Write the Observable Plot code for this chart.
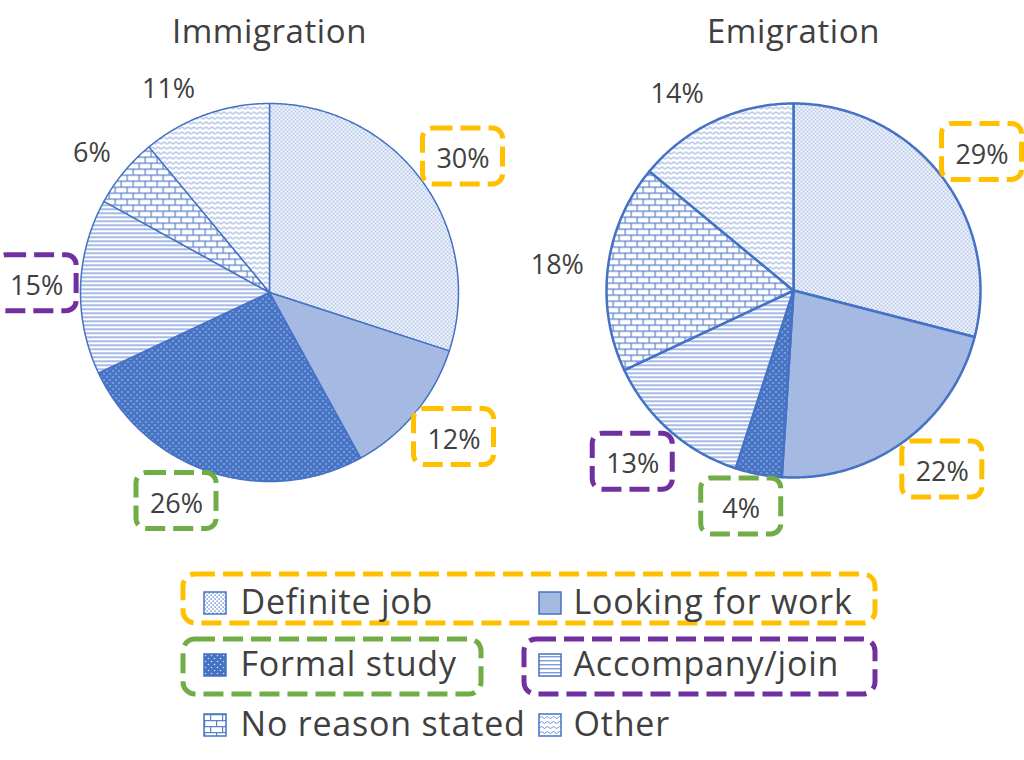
<!DOCTYPE html>
<html><head><meta charset="utf-8">
<script src="https://cdn.jsdelivr.net/npm/d3@7"></script>
<script src="https://cdn.jsdelivr.net/npm/@observablehq/plot@0.6"></script>
<style>body{margin:0;background:#fff}</style>
</head><body><div id="chart"></div>
<script>
// ---- data ----
const categories = ["Definite job", "Looking for work", "Formal study", "Accompany/join", "No reason stated", "Other"];
const immigration = [30, 12, 26, 15, 6, 11];
const emigration = [29, 22, 4, 13, 18, 14];
const pieTitles = ["Immigration", "Emigration"];

// ---- layout & styles ----
const W = 1024, H = 760;
const blue = "#4472C4";
const textColor = "#404040";
const pies = [
  {title: pieTitles[0], values: immigration, cx: 269, cy: 292, r: 189, sw: 1.5,
   nudge: [[5, 1], [5, -4], [-21, -13], [0, -2], [2, 6], [-22, 13]]},
  {title: pieTitles[1], values: emigration, cx: 793, cy: 290, r: 187, sw: 2.5,
   nudge: [[6, 3], [13, -8], [-9, -11], [-8, -2], [-7, 1], [-18, 10]]}
];
const patternIds = ["pDef", "pLook", "pStudy", "pAcc", "pNone", "pOther"];
const boxColor = ["#FFC000", "#FFC000", "#70AD47", "#7030A0", null, null];
const legendCols = [{sx: 215, tx: 240}, {sx: 550, tx: 573}];
const legendRows = [603, 665, 725];
const legendBoxes = [
  {x1: 183, x2: 875, y1: 574, y2: 623, c: "#FFC000"},
  {x1: 183, x2: 481, y1: 639, y2: 694, c: "#70AD47"},
  {x1: 524, x2: 875, y1: 639, y2: 694, c: "#7030A0"}
];

const pieGen = d3.pie().sort(null).value(d => d.value);
const slicePts = [], labels = [];
pies.forEach((p, pi) => {
  const arcs = pieGen(categories.map((c, i) => ({cat: c, i, value: p.values[i]})));
  arcs.forEach(a => {
    const key = pi + "-" + a.data.i;
    const fill = `url(#${patternIds[a.data.i]})`;
    const n = Math.max(2, Math.ceil((a.endAngle - a.startAngle) / 0.01));
    slicePts.push({pie: pi, key, fill, x: p.cx, y: p.cy});
    for (let k = 0; k <= n; k++) {
      const t = a.startAngle + (a.endAngle - a.startAngle) * k / n;
      slicePts.push({pie: pi, key, fill, x: p.cx + p.r * Math.sin(t), y: p.cy - p.r * Math.cos(t)});
    }
    slicePts.push({pie: pi, key, fill, x: p.cx, y: p.cy});
    const mid = (a.startAngle + a.endAngle) / 2, lr = p.r + 44;
    const [dx, dy] = p.nudge[a.data.i];
    labels.push({x: p.cx + lr * Math.sin(mid) + dx, y: p.cy - lr * Math.cos(mid) + dy, text: a.data.value + "%", box: boxColor[a.data.i]});
  });
});

const legendItems = categories.map((c, i) => ({
  name: c, fill: `url(#${patternIds[i]})`,
  sx: legendCols[i % 2].sx, tx: legendCols[i % 2].tx, y: legendRows[Math.floor(i / 2)]
}));

const chart = Plot.plot({
  width: W, height: H, margin: 0,
  x: {domain: [0, W], range: [0, W], axis: null},
  y: {domain: [0, H], range: [0, H], axis: null},
  color: {type: "identity"},
  style: {fontFamily: "'Open Sans', sans-serif", background: "#fff", overflow: "visible"},
  marks: [
    Plot.line(slicePts.filter(d => d.pie === 0), {x: "x", y: "y", z: "key", fill: "fill", stroke: blue, strokeWidth: pies[0].sw, strokeLinejoin: "round"}),
    Plot.line(slicePts.filter(d => d.pie === 1), {x: "x", y: "y", z: "key", fill: "fill", stroke: blue, strokeWidth: pies[1].sw, strokeLinejoin: "round"}),
    Plot.rect(labels.filter(d => d.box), {x1: d => d.x - 40, x2: d => d.x + 40, y1: d => d.y - 28, y2: d => d.y + 28, stroke: "box", fill: "white", strokeWidth: 5, strokeDasharray: "20,8", rx: 10}),
    Plot.text(labels, {x: "x", y: d => d.y + 3, text: "text", fontSize: 27, fill: textColor}),
    Plot.text(pies, {x: "cx", y: 32, text: "title", fontSize: 33, fill: textColor, className: "ttl"}),
    Plot.rect(legendBoxes, {x1: "x1", x2: "x2", y1: "y1", y2: "y2", stroke: "c", fill: "none", strokeWidth: 5, strokeDasharray: "20,8", rx: 12}),
    Plot.rect(legendItems, {x1: d => d.sx - 11, x2: d => d.sx + 11, y1: d => d.y - 11, y2: d => d.y + 11, fill: "fill", stroke: blue, strokeWidth: 1.5}),
    Plot.text(legendItems, {x: "tx", y: "y", text: "name", textAnchor: "start", fontSize: 34, fill: textColor, className: "leg"})
  ]
});

const defs = `<defs>
<style>.leg text{letter-spacing:0.8px}.ttl text{letter-spacing:0.6px}</style>
<pattern id="pDef" patternUnits="userSpaceOnUse" width="4" height="4">
  <rect width="4" height="4" fill="#fff"/>
  <rect x="0.4" y="0.4" width="1.4" height="1.4" fill="#6589d0"/>
  <rect x="2.4" y="2.4" width="1.4" height="1.4" fill="#6589d0"/>
</pattern>
<pattern id="pLook" patternUnits="userSpaceOnUse" width="4" height="4">
  <rect width="4" height="4" fill="#a7bbe3"/>
  <rect x="0" y="0" width="1" height="1" fill="#93abdc"/>
  <rect x="2" y="2" width="1" height="1" fill="#93abdc"/>
</pattern>
<pattern id="pStudy" patternUnits="userSpaceOnUse" width="6" height="6">
  <rect width="6" height="6" fill="${blue}"/>
  <circle cx="1.5" cy="1.5" r="0.8" fill="#d3ddf2"/>
  <circle cx="4.5" cy="4.5" r="0.8" fill="#d3ddf2"/>
</pattern>
<pattern id="pAcc" patternUnits="userSpaceOnUse" width="8" height="4">
  <rect width="8" height="4" fill="#fff"/>
  <rect x="0" y="0" width="8" height="1.4" fill="#7f9dd8"/>
</pattern>
<pattern id="pNone" patternUnits="userSpaceOnUse" width="12" height="12">
  <rect width="12" height="12" fill="#fff"/>
  <path d="M0 0.6H12M0 6.6H12M0.6 0V6.6M6.6 6.6V12" stroke="#5b82cc" stroke-width="1.2" fill="none"/>
</pattern>
<pattern id="pOther" patternUnits="userSpaceOnUse" width="6" height="5">
  <rect width="6" height="5" fill="#fff"/>
  <path d="M0 2.5 Q1.5 0.5 3 2.5 T6 2.5" stroke="#6f8fd2" stroke-width="1" fill="none"/>
</pattern>
</defs>`;
chart.insertAdjacentHTML("afterbegin", defs);
document.getElementById("chart").appendChild(chart);
</script>
</body></html>
